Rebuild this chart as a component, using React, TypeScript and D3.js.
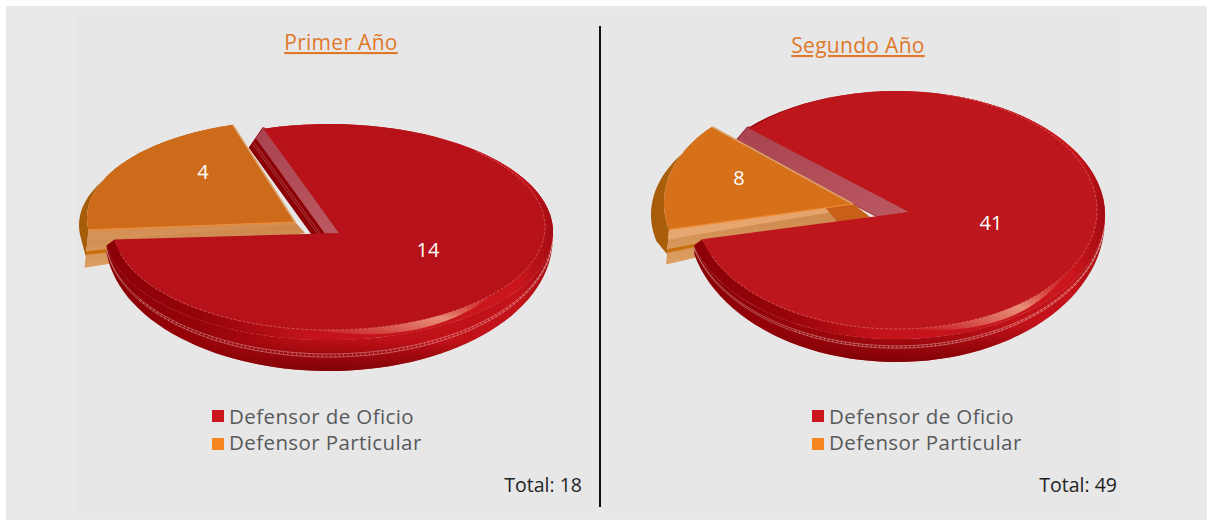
import React from 'react';
import * as d3 from 'd3';

const categories = ['Defensor de Oficio', 'Defensor Particular'];
const legendColors = ['#cc1720', '#f6861f'];
const titles = ['Primer Año', 'Segundo Año'];
const firstYear = [14, 4];
const secondYear = [41, 8];

const rad = (deg: number) => (deg * Math.PI) / 180;

// hand fitted projection of each tilted pie
const layouts = [
  {
    id: 'a', values: firstYear, start: -17, titleX: 341, titleY: 49, legendX: 212, totalRight: 582,
    red: { cx: 329, cy: 232, rx: 224, ry: 108, apexX: 339, apexY: 233, depth: 31, bevel: 10, wall: [-13, 19], pink: 0.5, stitch: 0.45 },
    orange: { cx: 293, cy: 218, rx: 206, ry: 97.4, apexX: 295, apexY: 222, rim: 8, front: [[-4, 38], [10, 11]], shine: 0.15, tip: 0 },
    top: '#b7121a', orangeTop: '#ce6b1a',
    labels: [[428, 250], [203, 172]],
    glint: [184, 130],
  },
  {
    id: 'b', values: secondYear, start: -45.4, titleX: 858, titleY: 52, legendX: 812, totalRight: 1117,
    red: { cx: 896.5, cy: 215, rx: 208.5, ry: 124, apexX: 909, apexY: 212, depth: 23, bevel: 10, wall: [-12, 14], pink: 1, stitch: 0.3 },
    orange: { cx: 831, cy: 203, rx: 167, ry: 108.6, apexX: 853, apexY: 204, rim: 13, front: [[-3, 35], [17, 13]], shine: 0.6, tip: 0.85 },
    top: '#bd161d', orangeTop: '#d6711a',
    labels: [[991, 223], [739, 178]],
    glint: [176, 122],
  },
];

type Disc = { cx: number; cy: number; rx: number; ry: number };

const project = (d: Disc, a: number, drx = 0, dry = 0, dx = 0, dy = 0): [number, number] => [
  d.cx + dx + (d.rx + drx) * Math.sin(a),
  d.cy + dy - (d.ry + dry) * Math.cos(a),
];

const sampleArc = (a0: number, a1: number, f: (a: number) => [number, number]) =>
  d3.range(0, 81).map(i => f(a0 + ((a1 - a0) * i) / 80));

const closed = d3.line().curve(d3.curveLinear);
const toPath = (pts: [number, number][], close = true) => closed(pts) + (close ? 'Z' : '');

// the rounded edge: almost no drop at the sides of the disc, full drop at the front
const drop = (a: number) => 0.1 + 0.9 * Math.pow(Math.max(0, -Math.cos(a)), 0.8);

function Pie({ cfg }: { cfg: (typeof layouts)[number] }) {
  const slices = d3.pie<number>().sort(null).startAngle(rad(cfg.start)).endAngle(rad(cfg.start + 360))(cfg.values);
  const [redSlice, orangeSlice] = slices;
  const r = cfg.red;
  const o = cfg.orange;
  const a0 = redSlice.startAngle;
  const a1 = redSlice.endAngle;
  const b0 = orangeSlice.startAngle;
  const b1 = orangeSlice.endAngle;

  // red disc rings
  const outer = (a: number, d = 0) => project(r, a, 0, 0, 0, d);
  const inner = (a: number) => project(r, a, -r.bevel * 0.8, -r.bevel / 2, 0, -r.bevel / 2);
  const lower = (a: number, f = 1) => outer(a, r.depth * drop(a) * f);
  const apex: [number, number] = [r.apexX, r.apexY];

  const frontFrom = rad(cfg.start + 60);
  const body = [...sampleArc(frontFrom, a1, a => lower(a)), ...sampleArc(a1, frontFrom, a => outer(a))];
  const bevelBand = [...sampleArc(a0, a1, a => outer(a)), ...sampleArc(a1, a0, inner)];
  const surface = [apex, ...sampleArc(a0, a1, inner)];
  const full = [apex, ...sampleArc(a0, a1, a => outer(a))];

  const rimStart = outer(a0);
  const wallAt = (f: number): [number, number][] => [
    [rimStart[0] + r.wall[0] * f, rimStart[1] + r.wall[1] * f],
    [apex[0] + r.wall[0] * f, apex[1] + r.wall[1] * f],
  ];
  const wallBand = (f: number) => [rimStart, apex, ...wallAt(f).reverse()] as [number, number][];

  // bright glint on the lower bevel
  const g0 = rad(cfg.glint[0]);
  const g1 = rad(cfg.glint[1]);
  const glint = [
    ...sampleArc(g0, g1, inner),
    ...d3.range(80, -1, -1).map(i => {
      const a = g0 + ((g1 - g0) * i) / 80;
      const w = Math.sin((Math.PI * i) / 80) * 0.8;
      const p = inner(a);
      const q = outer(a);
      return [p[0] + (q[0] - p[0]) * w, p[1] + (q[1] - p[1]) * w] as [number, number];
    }),
  ];

  // orange slice
  const oPt = (a: number) => project(o, a);
  const oRim = (a: number) => project(o, a, o.rim, 0, 0, o.rim * 0.9);
  const oApex: [number, number] = [o.apexX, o.apexY];
  const oLeft = oPt(b0);
  const oTopPt = oPt(b1);
  const frontAt = (t: number, u: number): [number, number] => [
    oLeft[0] + (oApex[0] - oLeft[0]) * u + (o.front[0][0] + (o.front[1][0] - o.front[0][0]) * u) * t,
    oLeft[1] + (oApex[1] - oLeft[1]) * u + (o.front[0][1] + (o.front[1][1] - o.front[0][1]) * u) * t,
  ];
  const oSurface = [oApex, ...sampleArc(b0, b1, oPt)];
  const oRimBand = [frontAt(0.7, 0), ...sampleArc(b0, b1, oRim), ...sampleArc(b1, b0, oPt)];
  const frontFace = [frontAt(0, 0), frontAt(0, 1), frontAt(1, 1), frontAt(1, 0)];
  const shine = [frontAt(0, 0), frontAt(0, 1), frontAt(0.28, 1), frontAt(0.28, 0)];
  const stripe = [frontAt(0.56, 0), frontAt(0.56, 0.3), frontAt(0.66, 0.3), frontAt(0.66, 0)];
  const tip = [frontAt(0, o.tip), frontAt(0, 1), frontAt(1, 1), frontAt(1, o.tip)];

  const stitchLine = (f: number) => toPath(sampleArc(frontFrom, a1, a => lower(a, f)), false);
  const ladder = toPath(sampleArc(rad(cfg.start + 90), rad(cfg.start + 255), a => lower(a, r.stitch + 0.05)), false);

  return (
    <g>
      <defs>
        <linearGradient id={`${cfg.id}-body`} x1="0" y1="0" x2="1" y2="0">
          <stop offset="0" stopColor="#8a0106" />
          <stop offset="0.22" stopColor="#960409" />
          <stop offset="0.45" stopColor="#b80e15" />
          <stop offset="0.92" stopColor="#c4131a" />
          <stop offset="1" stopColor="#a50c12" />
        </linearGradient>
        <linearGradient id={`${cfg.id}-bevel`} x1="0" y1="0" x2="1" y2="0">
          <stop offset="0" stopColor="#8a0106" />
          <stop offset="0.22" stopColor="#960409" />
          <stop offset="0.45" stopColor="#c4131b" />
          <stop offset="0.92" stopColor="#cb161d" />
          <stop offset="1" stopColor="#a50c12" />
        </linearGradient>
        <linearGradient id={`${cfg.id}-shade`} x1="0" y1="0" x2="0" y2="1">
          <stop offset="0.86" stopColor="#7a0003" stopOpacity="0" />
          <stop offset="1" stopColor="#7a0003" stopOpacity="0.9" />
        </linearGradient>
        <linearGradient id={`${cfg.id}-glint`} x1="0" y1="1" x2="1" y2="0">
          <stop offset="0" stopColor="#ea9a86" stopOpacity="0" />
          <stop offset="0.55" stopColor="#e88f78" />
          <stop offset="1" stopColor="#e05a4a" stopOpacity="0" />
        </linearGradient>
        <linearGradient id={`${cfg.id}-wall`} x1="0" y1="0" x2="1" y2="1">
          <stop offset="0" stopColor="#a8434f" />
          <stop offset="1" stopColor="#bc5a62" />
        </linearGradient>
        <linearGradient id={`${cfg.id}-front`} x1="0" y1="0" x2="0" y2="1">
          <stop offset="0" stopColor="#cc8549" />
          <stop offset="1" stopColor="#dd9f63" />
        </linearGradient>
        <linearGradient id={`${cfg.id}-orim`} x1="0" y1="0" x2="1" y2="0">
          <stop offset="0" stopColor="#a55c08" />
          <stop offset="1" stopColor="#b8690e" />
        </linearGradient>
      </defs>

      {/* red cut wall */}
      <path d={toPath(wallBand(1))} fill="#8c0005" stroke="#8c0005" strokeLinejoin="round" strokeWidth={3} />
      {[0.72, 0.82].map(f => (
        <path key={f} d={toPath(wallAt(f), false)} stroke="#e9b7b4" strokeOpacity={0.5} strokeWidth={0.7} fill="none" />
      ))}
      <path d={toPath(wallBand(r.pink))} fill={`url(#${cfg.id}-wall)`} stroke={`url(#${cfg.id}-wall)`} strokeLinejoin="round" strokeWidth={2} />

      {/* orange exploded slice */}
      <path d={toPath(oRimBand)} fill={`url(#${cfg.id}-orim)`} />
      <path d={toPath(frontFace)} fill={`url(#${cfg.id}-front)`} />
      <path d={toPath(shine)} fill="#f4b682" opacity={o.shine} />
      <path d={toPath(stripe)} fill="#c8700f" />
      {o.tip > 0 && <path d={toPath(tip)} fill="#c9601a" />}
      <path d={toPath(oSurface)} fill={cfg.orangeTop} />
      <path d={toPath([oApex, oTopPt], false)} fill="none" stroke="#dca06a" strokeWidth={1.5} />
      <path d={toPath([oLeft, oApex], false)} fill="none" stroke="#f08b33" strokeWidth={1.2} />

      {/* red disc */}
      <path d={toPath(body)} fill={`url(#${cfg.id}-body)`} />
      <path d={toPath(body)} fill={`url(#${cfg.id}-shade)`} />
      <path d={stitchLine(r.stitch)} fill="none" stroke="#f4d6d2" strokeOpacity={0.55} strokeWidth={0.7} />
      <path d={stitchLine(r.stitch + 0.1)} fill="none" stroke="#f4d6d2" strokeOpacity={0.55} strokeWidth={0.7} />
      <path d={ladder} fill="none" stroke="#f4d6d2" strokeOpacity={0.45} strokeWidth={2.6} strokeDasharray="0.8 3.5" />
      <path d={toPath(full)} fill={cfg.top} />
      <path d={toPath(bevelBand)} fill={`url(#${cfg.id}-bevel)`} />
      <path d={toPath(glint)} fill={`url(#${cfg.id}-glint)`} />
      <path d={toPath(surface)} fill={cfg.top} />
      <path d={toPath(sampleArc(a0 + rad(60), a1 - rad(8), inner), false)} fill="none" stroke="#f0b3ae" strokeOpacity={0.55} strokeWidth={0.7} strokeDasharray="3 1.5" />

      {/* value labels */}
      {cfg.values.map((v, i) => (
        <text key={i} x={cfg.labels[i][0]} y={cfg.labels[i][1] + 7} textAnchor="middle" fontSize={20} fill="#fff" fontFamily="'Open Sans', sans-serif">
          {v}
        </text>
      ))}
    </g>
  );
}

export default function App() {
  const font = "'Open Sans', 'Noto Sans', sans-serif";
  return (
    <svg width={1207} height={522} style={{ position: 'absolute', left: 0, top: 0, display: 'block' }}>
      <rect width={1207} height={522} fill="#fff" />
      <rect x={6} y={6} width={1201} height={514} fill="#e9e9ea" />
      <rect x={75} y={16} width={1045} height={496} fill="#e7e7e8" />
      <line x1={600} x2={600} y1={26} y2={507} stroke="#111" strokeWidth={2} />
      {layouts.map((cfg, i) => (
        <g key={cfg.id}>
          <text x={cfg.titleX} y={cfg.titleY + 1} textAnchor="middle" fontSize={21} letterSpacing={0.3} fill="#e0782a" textDecoration="underline" fontFamily={font}>
            {titles[i]}
          </text>
          <Pie cfg={cfg} />
          {categories.map((c, j) => (
            <g key={c}>
              <rect x={cfg.legendX} y={410 + j * 28} width={12} height={12} fill={legendColors[j]} />
              <text x={cfg.legendX + 17} y={424 + j * 26} fontSize={20.5} fill="#58595b" letterSpacing={0.4} fontFamily={font}>
                {c}
              </text>
            </g>
          ))}
          <text x={cfg.totalRight} y={492} textAnchor="end" fontSize={19.5} fill="#222" fontFamily={font}>
            {`Total: ${d3.sum(cfg.values)}`}
          </text>
        </g>
      ))}
    </svg>
  );
}
